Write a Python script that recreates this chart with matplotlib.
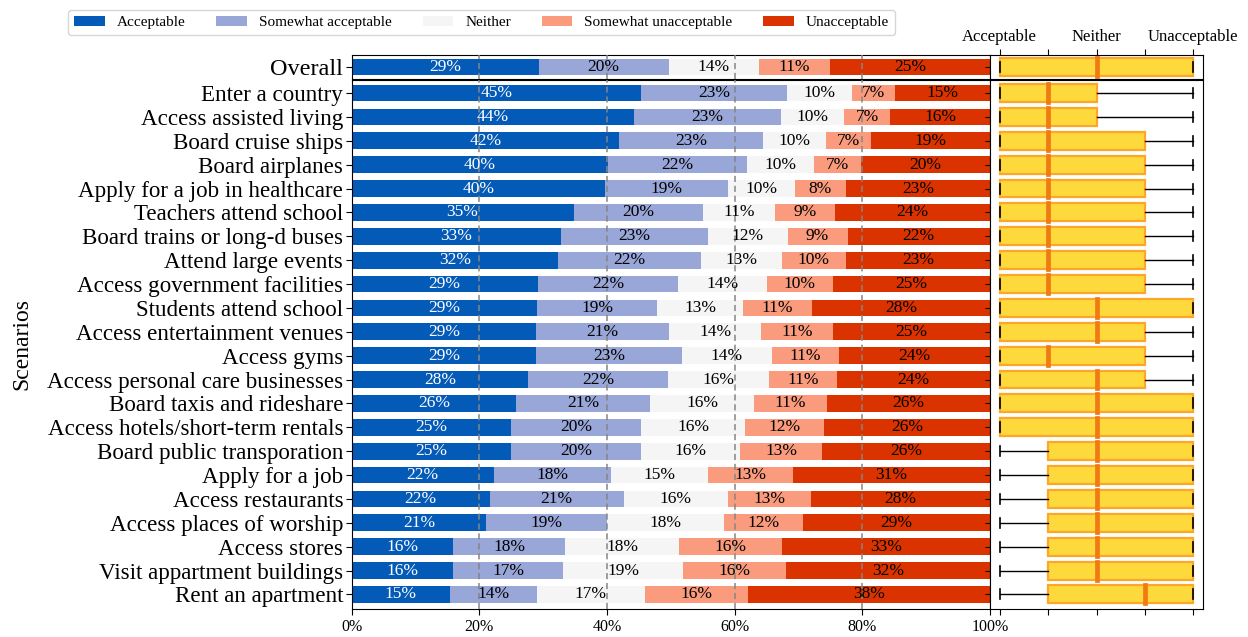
import matplotlib
matplotlib.use("Agg")
import matplotlib.pyplot as plt
from matplotlib.patches import Patch

plt.rcParams['font.family'] = ['Liberation Serif', 'DejaVu Serif']

# ---- data -------------------------------------------------------------
categories = ["Acceptable", "Somewhat acceptable", "Neither",
              "Somewhat unacceptable", "Unacceptable"]
colors = ["#045ab7", "#98a6d8", "#f5f5f5", "#f99b7c", "#db3300"]
label_colors = ["white", "black", "black", "black", "black"]

scenarios = [
    "Enter a country", "Access assisted living", "Board cruise ships",
    "Board airplanes", "Apply for a job in healthcare", "Teachers attend school",
    "Board trains or long-d buses", "Attend large events",
    "Access government facilities", "Students attend school",
    "Access entertainment venues", "Access gyms",
    "Access personal care businesses", "Board taxis and rideshare",
    "Access hotels/short-term rentals", "Board public transporation",
    "Apply for a job", "Access restaurants", "Access places of worship",
    "Access stores", "Visit appartment buildings", "Rent an apartment",
]

acceptable = [45.4, 44.2, 41.9, 40.2, 39.7, 34.8, 32.8, 32.4, 29.2, 29.1, 28.9,
              28.9, 27.7, 25.8, 25.0, 25.0, 22.3, 21.7, 21.1, 15.9, 15.9, 15.4]
somewhat_acceptable = [22.8, 23.1, 22.6, 21.8, 19.3, 20.3, 23.1, 22.3, 22.0, 18.8, 20.9,
                       22.9, 21.9, 21.0, 20.4, 20.3, 18.4, 20.9, 18.9, 17.6, 17.3, 13.7]
neither = [10.2, 9.9, 9.8, 10.4, 10.4, 11.2, 12.4, 12.7, 13.8, 13.4, 14.4,
           14.0, 15.8, 16.2, 16.2, 15.6, 15.2, 16.3, 18.3, 17.8, 18.7, 16.8]
somewhat_unacceptable = [6.7, 7.2, 7.1, 7.4, 8.0, 9.4, 9.4, 10.0, 10.4, 10.9, 11.2,
                         10.6, 10.6, 11.4, 12.4, 12.8, 13.2, 13.1, 12.4, 16.1, 16.1, 16.2]
unacceptable = [14.9, 15.6, 18.6, 20.2, 22.6, 24.3, 22.3, 22.6, 24.6, 27.8, 24.6,
                23.6, 24.0, 25.6, 26.0, 26.3, 30.9, 28.0, 29.3, 32.6, 32.0, 37.9]

overall_label = "Overall"
overall = [29.3, 20.4, 14.1, 11.1, 25.1]

# Likert response summaries (1 = Acceptable ... 5 = Unacceptable)
box_q1 = [1, 1, 1, 1, 1, 1, 1, 1, 1, 1, 1, 1, 1, 1, 1, 2, 2, 2, 2, 2, 2, 2]
box_med = [2, 2, 2, 2, 2, 2, 2, 2, 2, 3, 3, 2, 3, 3, 3, 3, 3, 3, 3, 3, 3, 4]
box_q3 = [3, 3, 4, 4, 4, 4, 4, 4, 4, 5, 4, 4, 4, 5, 5, 5, 5, 5, 5, 5, 5, 5]
box_lo = [1, 1, 1, 1, 1, 1, 1, 1, 1, 1, 1, 1, 1, 1, 1, 1, 1, 1, 1, 1, 1, 1]
box_hi = [5, 5, 5, 5, 5, 5, 5, 5, 5, 5, 5, 5, 5, 5, 5, 5, 5, 5, 5, 5, 5, 5]
overall_box = dict(q1=1, med=3, q3=5, whislo=1, whishi=5)

likert_ticks = [1, 2, 3, 4, 5]
likert_labels = ["Acceptable", "", "Neither", "", "Unacceptable"]
pct_ticks = [0, 20, 40, 60, 80, 100]

# ---- layout -----------------------------------------------------------
W, H = 1248, 637
fig = plt.figure(figsize=(W / 100, H / 100), dpi=100)


def frac(x0, y0, x1, y1):
    return [x0 / W, 1 - y1 / H, (x1 - x0) / W, (y1 - y0) / H]


ax_ov = fig.add_axes(frac(351.5, 55, 990, 79))
ax_main = fig.add_axes(frac(351.5, 80, 990, 609))
bx_ov = fig.add_axes(frac(990, 55, 1203, 79))
bx_main = fig.add_axes(frac(990, 80, 1203, 609))

series = [acceptable, somewhat_acceptable, neither, somewhat_unacceptable, unacceptable]
bar_h = 0.7
grid_kw = dict(color="#858585", lw=1.1, ls=(0, (4, 2.5)), zorder=3)
row_lim = (21.61, -0.545)


def stacked(ax, ypos, rows, fs=12.5):
    left = [0.0] * len(ypos)
    for ci, vals in enumerate(rows):
        ax.barh(ypos, vals, left=left, height=bar_h, color=colors[ci],
                label=categories[ci], zorder=2)
        for y, l, v in zip(ypos, left, vals):
            ax.text(l + v / 2, y, f"{v:.0f}%", ha="center", va="center",
                    fontsize=fs, color=label_colors[ci], zorder=4)
        left = [a + b for a, b in zip(left, vals)]
    for g in pct_ticks[1:-1]:
        ax.axvline(g, **grid_kw)
    ax.set_xlim(0, 100)


# overall row
stacked(ax_ov, [0], [[v] for v in overall])
ax_ov.set_ylim(0.5, -0.5)
ax_ov.set_yticks([0])
ax_ov.set_yticklabels([overall_label], fontsize=17.5)
ax_ov.set_xticks([])
ax_ov.tick_params(axis="y", length=4, pad=2)

# scenario rows
ypos = list(range(len(scenarios)))
stacked(ax_main, ypos, series)
ax_main.set_ylim(*row_lim)
ax_main.set_yticks(ypos)
ax_main.set_yticklabels(scenarios, fontsize=16.6)
ax_main.set_xticks(pct_ticks)
ax_main.set_xticklabels([f"{t}%" for t in pct_ticks], fontsize=11.5)
ax_main.tick_params(axis="y", length=4, pad=2)
ax_main.tick_params(axis="x", length=4, pad=3)
ax_main.set_ylabel("Scenarios", fontsize=17)
ax_main.yaxis.set_label_coords(-0.5, 0.5)

# box plots
box_kw = dict(
    widths=0.75, patch_artist=True, showfliers=False, capwidths=0.42,
    orientation="horizontal", manage_ticks=False,
    boxprops=dict(facecolor="#fed93b", edgecolor="#fca62a", linewidth=1.6),
    medianprops=dict(color="#f07a14", linewidth=3.4, solid_capstyle="projecting"),
    whiskerprops=dict(color="black", linewidth=1.0),
    capprops=dict(color="black", linewidth=1.2),
)
stats = [dict(q1=a, med=b, q3=c, whislo=d, whishi=e, fliers=[])
         for a, b, c, d, e in zip(box_q1, box_med, box_q3, box_lo, box_hi)]
bx_main.bxp(stats, positions=ypos, **box_kw)
bx_ov.bxp([dict(overall_box, fliers=[])], positions=[0], **box_kw)

for bx in (bx_ov, bx_main):
    bx.set_xlim(0.8, 5.2)
    bx.tick_params(axis="y", length=3.5, labelleft=False)
bx_main.set_ylim(*row_lim)
bx_main.set_yticks(ypos)
bx_main.set_xticks(likert_ticks)
bx_main.set_xticklabels([])
bx_main.tick_params(axis="x", length=4)
bx_ov.set_ylim(0.5, -0.5)
bx_ov.set_yticks([0])
bx_ov.xaxis.tick_top()
bx_ov.set_xticks(likert_ticks)
bx_ov.set_xticklabels(likert_labels, fontsize=12)
bx_ov.tick_params(axis="x", length=4, pad=3)

handles = [Patch(facecolor=c, label=l) for c, l in zip(colors, categories)]
fig.legend(handles=handles, loc="upper center", bbox_to_anchor=(0.386, 0.997),
           ncol=5, fontsize=11, frameon=True, fancybox=True,
           edgecolor="#cccccc", columnspacing=2.0, handlelength=2.0)

fig.savefig("out.png", dpi=100)
